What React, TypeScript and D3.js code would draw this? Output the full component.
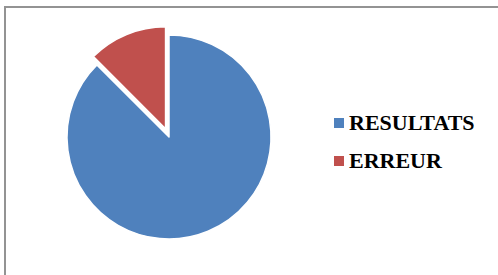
import * as d3 from 'd3';

const categories = ['RESULTATS', 'ERREUR'];
const values = [87.5, 12.5];
const colors = ['#4F81BD', '#C0504D'];
const explode = [0, 9];

const width = 498;
const height = 275;
const cx = 169;
const cy = 137;
const radius = 102;

const App = () => {
    const data = categories.map((c, i) => ({ name: c, value: values[i], idx: i }));

    const pie = d3.pie<any>()
        .sort(null)
        .value((d: any) => d.value)
        .startAngle(0)
        .endAngle(2 * Math.PI);

    const arc = d3.arc<any>().innerRadius(0).outerRadius(radius);

    // legend rows
    const legendY = d3.scalePoint<string>().domain(categories).range([0, 38]);

    return (
        <svg width={width} height={height} style={{ position: 'absolute', left: 0, top: 0, display: 'block' }}>
            <rect width={width} height={height} fill="#fff" />
            {/* chart frame: only the top and left edges are visible */}
            <path d={`M5,${height} L5,7 L${width},7`} fill="none" stroke="#939393" strokeWidth={2} />

            <g transform={`translate(${cx},${cy})`}>
                {pie(data).map((d: any) => {
                    const mid = (d.startAngle + d.endAngle) / 2;
                    const off = explode[d.data.idx];
                    return (
                        <path
                            key={d.data.name}
                            transform={`translate(${Math.sin(mid) * off},${-Math.cos(mid) * off})`}
                            d={arc(d) ?? ''}
                            fill={colors[d.data.idx]}
                            stroke="#fff"
                            strokeWidth={1.5}
                            strokeLinejoin="round"
                        />
                    );
                })}
            </g>

            <g transform="translate(334,118)">
                {categories.map((c, i) => (
                    <g key={c} transform={`translate(0,${legendY(c)})`}>
                        <rect width={10} height={10} fill={colors[i]} />
                        <text x={15} y={12} fontFamily="Liberation Serif" fontWeight="bold" fontSize={22} fill="#000">
                            {c}
                        </text>
                    </g>
                ))}
            </g>
        </svg>
    );
};

export default App;
